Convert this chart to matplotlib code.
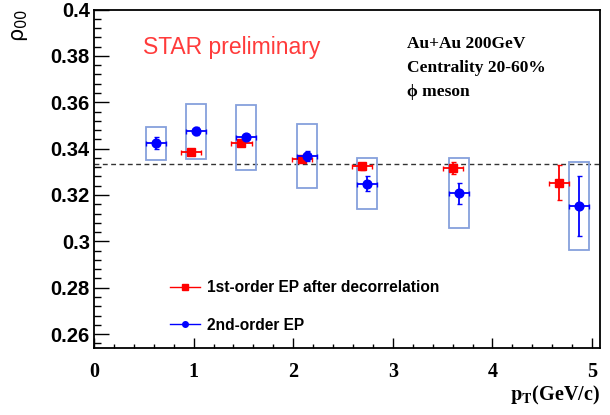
import numpy as np
import matplotlib.pyplot as plt
from matplotlib.lines import Line2D
from matplotlib.patches import Rectangle
from matplotlib.ticker import MultipleLocator

plt.rcParams['mathtext.fontset'] = 'stix'

# 1st-order EP after decorrelation (red)
pt1 = [0.97, 1.48, 2.09, 2.69, 3.60, 4.67]
rho1 = [0.3386, 0.3424, 0.3357, 0.3323, 0.3316, 0.3253]
rho1_err = [0.0008, 0.0010, 0.0012, 0.0017, 0.0025, 0.0075]
pt1_err = [0.10, 0.105, 0.10, 0.10, 0.10, 0.10]

# 2nd-order EP (blue)
pt2 = [0.62, 1.02, 1.53, 2.14, 2.74, 3.66, 4.87]
rho2 = [0.3424, 0.3475, 0.3449, 0.3368, 0.3248, 0.3207, 0.3152]
rho2_err = [0.0026, 0.0017, 0.0010, 0.0023, 0.0032, 0.0045, 0.0131]
pt2_err = [0.10, 0.10, 0.10, 0.10, 0.10, 0.10, 0.10]
rho2_sys = [0.0071, 0.0119, 0.0140, 0.0137, 0.0110, 0.0151, 0.0190]

fig = plt.figure(figsize=(6.1, 4.15), dpi=100)
ax = fig.add_axes([0.1541, 0.1614, 0.8287, 0.8157])

# systematic boxes
for x, y, s in zip(pt2, rho2, rho2_sys):
    ax.add_patch(Rectangle((x - 0.1, y - s), 0.2, 2 * s, fill=False,
                           edgecolor='#86a0dc', lw=1.3, zorder=2))

ax.axhline(1/3, color='#333333', lw=1.0, ls=(0, (3.5, 2.5)), zorder=1)

ax.errorbar(pt1, rho1, yerr=rho1_err, xerr=pt1_err, fmt='s', color='red',
            ms=5.5, elinewidth=1.3, capsize=1.8, capthick=1.0, zorder=3)
ax.errorbar(pt2, rho2, yerr=rho2_err, xerr=pt2_err, fmt='o', color='blue',
            ms=6.3, elinewidth=1.3, capsize=1.8, capthick=1.0, zorder=4)

ax.set_xlim(0, 5.075)
ax.set_ylim(0.254, 0.4)

ax.xaxis.set_major_locator(MultipleLocator(1))
ax.xaxis.set_minor_locator(MultipleLocator(0.2))
ax.yaxis.set_major_locator(MultipleLocator(0.02))
ax.yaxis.set_minor_locator(MultipleLocator(0.004))
ax.set_yticks([0.26, 0.28, 0.3, 0.32, 0.34, 0.36, 0.38, 0.4])
ax.set_yticklabels(['0.26', '0.28', '0.3', '0.32', '0.34', '0.36', '0.38', '0.4'])

ax.tick_params(axis='y', which='major', direction='in', length=10.5, width=1.0,
               pad=3, labelsize=14.5)
ax.tick_params(axis='y', which='minor', direction='in', length=5, width=1.0)
ax.tick_params(axis='x', which='major', direction='in', length=7, width=1.0,
               pad=10, labelsize=14.5)
ax.tick_params(axis='x', which='minor', direction='in', length=3, width=1.0)
for lab in ax.get_yticklabels():
    lab.set_fontfamily('Liberation Sans')
    lab.set_fontweight('bold')
for lab in ax.get_xticklabels():
    lab.set_fontfamily('Liberation Serif')
    lab.set_fontweight('bold')
for sp in ax.spines.values():
    sp.set_linewidth(1.3)

fig.text(0.984, 0.035, r'$\mathbf{p_{T}}$(GeV/c)', ha='right', va='baseline',
         fontsize=14.5, fontfamily='Liberation Serif', fontweight='bold')
fig.text(0.017, 0.978, r'$\mathrm{\rho}_{\mathrm{00}}$', rotation=90, ha='left', va='top',
         fontsize=15, math_fontfamily='dejavusans')

fig.text(143 / 610, 1 - 54 / 415, 'STAR preliminary', color='#ff3b3b',
         fontsize=16.5, fontfamily='Liberation Sans', va='baseline')

info = ['Au+Au 200GeV', 'Centrality 20-60%', '\u03d5 meson']
for i, s in enumerate(info):
    fig.text(407 / 610, 1 - (48 + 24 * i) / 415, s, fontsize=12.5,
             fontfamily=['Liberation Serif', 'DejaVu Serif'], fontweight='bold',
             va='baseline')

handles = [Line2D([], [], color='red', marker='s', ms=4, lw=1.0),
           Line2D([], [], color='blue', marker='o', ms=4, lw=1.0)]
labels = ['1st-order EP after decorrelation', '2nd-order EP']
leg = fig.legend(handles, labels, loc='upper left',
                 bbox_to_anchor=(156 / 610, 1 - 266 / 415), frameon=False,
                 handlelength=1.9, handletextpad=0.5, labelspacing=1.45,
                 prop={'family': 'Liberation Sans', 'weight': 'bold', 'size': 11.2})

fig.savefig('out.png', dpi=100)
